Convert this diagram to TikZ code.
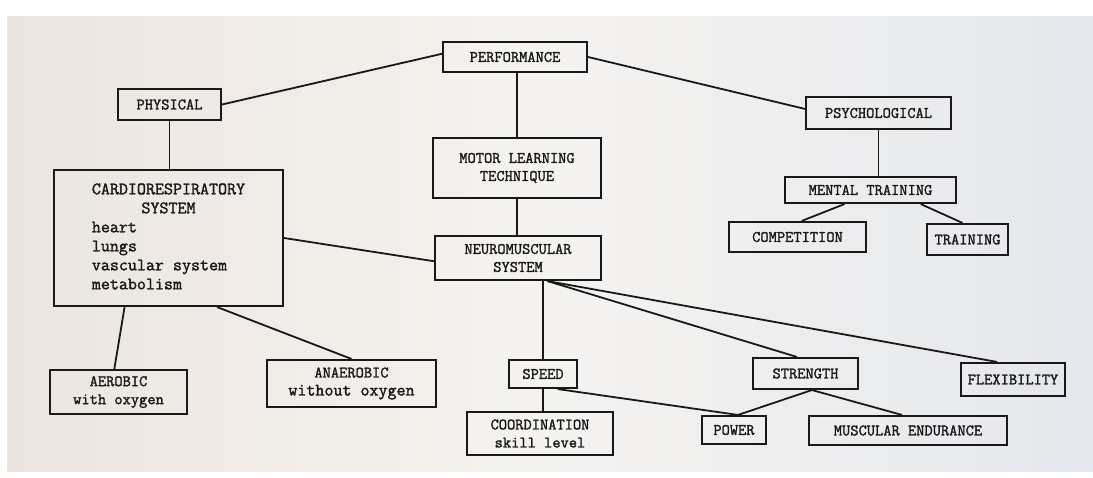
\documentclass[tikz,border=0pt]{standalone}
\usepackage{fontspec}
\newfontfamily\typew{Latin Modern Mono}[FakeBold=1.6]
\usetikzlibrary{calc}
\definecolor{paperL}{RGB}{236,229,223}
\definecolor{paperM}{RGB}{245,243,240}
\definecolor{paperR}{RGB}{228,231,236}
\definecolor{ink}{RGB}{25,25,25}
\tikzset{
  box/.style={draw=ink, line width=2.1pt, inner sep=0pt, align=center, text=ink,
    font=\typew\bfseries\fontsize{16}{18}\selectfont},
  link/.style={draw=ink, line width=1.8pt},
}
\begin{document}
\begin{tikzpicture}[x=1pt,y=-1pt]
\fill[white] (0,0) rectangle (1093,478);
\shade[left color=paperL, right color=paperR, middle color=paperM] (7,17) rectangle (1093,471);
\useasboundingbox (0,0) rectangle (1093,478);

% nodes
\node[box, minimum width=144pt, minimum height=30pt] (perf) at (515,57) {PERFORMANCE};
\node[box, minimum width=103pt, minimum height=31pt] (phys) at (169.5,104.5) {PHYSICAL};
\node[box, minimum width=145pt, minimum height=32pt] (psych) at (878.5,113) {PSYCHOLOGICAL};
\node[box, minimum width=168pt, minimum height=60pt] (motor) at (517,168) {MOTOR LEARNING\\TECHNIQUE};
\node[box, minimum width=171pt, minimum height=26pt] (mental) at (870.5,190) {MENTAL TRAINING};
\node[box, minimum width=137pt, minimum height=30pt] (comp) at (797.5,237) {COMPETITION};
\node[box, minimum width=81pt, minimum height=31pt] (train) at (967.5,239.5) {TRAINING};
\node[box, minimum width=229pt, minimum height=136pt, font=\typew\bfseries\fontsize{17.5}{19}\selectfont] (cardio) at (168.5,238)
  {\begin{tabular}{@{}l@{}}\multicolumn{1}{@{}c@{}}{CARDIORESPIRATORY}\\ \multicolumn{1}{@{}c@{}}{SYSTEM}\\ heart\\ lungs\\ vascular system\\ metabolism\end{tabular}};
\node[box, minimum width=166pt, minimum height=44pt] (neuro) at (518,258) {NEUROMUSCULAR\\SYSTEM};
\node[box, minimum width=137pt, minimum height=44pt] (aero) at (118.5,392) {AEROBIC\\with oxygen};
\node[box, minimum width=169pt, minimum height=47pt] (anaero) at (351.5,383.5) {ANAEROBIC\\{\fontsize{17.5}{18}\selectfont without oxygen}};
\node[box, minimum width=68pt, minimum height=28pt] (speed) at (543,374) {SPEED};
\node[box, minimum width=146pt, minimum height=43pt] (coord) at (540,433.5) {COORDINATION\\skill level};
\node[box, minimum width=64pt, minimum height=28pt] (power) at (734,430) {POWER};
\node[box, minimum width=105pt, minimum height=31pt] (strength) at (805.5,373.5) {STRENGTH};
\node[box, minimum width=198pt, minimum height=29pt] (musc) at (908,430.5) {MUSCULAR ENDURANCE};
\node[box, minimum width=104pt, minimum height=33pt] (flex) at (1013,379.5) {FLEXIBILITY};

% connectors
\draw[link] ($(perf.north west)!0.4!(perf.south west)$) -- (phys.east);
\draw[link] (perf.east) -- ($(psych.north west)!0.38!(psych.south west)$);
\draw[link] (perf.south -| motor.north) -- (motor.north);
\draw[link] (motor.south) -- (motor.south |- neuro.north);
\draw[link] (phys.south) -- (phys.south |- cardio.north);
\draw[link] (psych.south) -- (psych.south |- mental.north);
\draw[link] ($(mental.south west)!0.35!(mental.south east)$) -- ($(comp.north west)!0.53!(comp.north east)$);
\draw[link] ($(mental.south west)!0.79!(mental.south east)$) -- ($(train.north west)!0.44!(train.north east)$);
\draw[link] (cardio.east) -- ($(neuro.north west)!0.57!(neuro.south west)$);
\draw[link] ($(cardio.south west)!0.31!(cardio.south east)$) -- ($(aero.north west)!0.47!(aero.north east)$);
\draw[link] ($(cardio.south west)!0.71!(cardio.south east)$) -- (anaero.north);
\draw[link] (speed.north |- neuro.south) -- (speed.north);
\draw[link] (speed.south) -- (speed.south |- coord.north);
\coordinate (nfan) at ($(neuro.south west)!0.675!(neuro.south east)$);
\draw[link] (nfan) -- ($(strength.north west)!0.42!(strength.north east)$);
\draw[link] (nfan) -- ($(flex.north west)!0.35!(flex.north east)$);
\coordinate (ptop) at ($(power.north west)!0.56!(power.north east)$);
\coordinate (sbot) at ($(strength.south west)!0.56!(strength.south east)$);
\draw[link] ($(speed.south west)!0.71!(speed.south east)$) -- (ptop);
\draw[link] (sbot) -- (ptop);
\draw[link] (sbot) -- ($(musc.north west)!0.47!(musc.north east)$);
\end{tikzpicture}
\end{document}
